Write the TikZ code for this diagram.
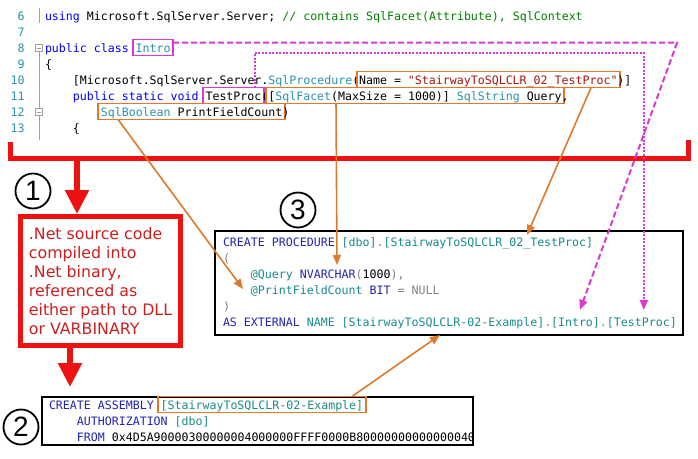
\documentclass[tikz,border=0pt]{standalone}
\usepackage{fontspec}
\usetikzlibrary{arrows.meta}
\newfontfamily\codefont{DejaVu Sans Mono}
\newfontfamily\boxfont{DejaVu Sans}
\newfontfamily\numfont{Liberation Sans}
\definecolor{kwblue}{HTML}{0000FF}
\definecolor{tyteal}{HTML}{2B91AF}
\definecolor{cmtgreen}{HTML}{008000}
\definecolor{strred}{HTML}{A31515}
\definecolor{sqlblue}{HTML}{2323B0}
\definecolor{sqlteal}{HTML}{1A8A8A}
\definecolor{sqlgray}{HTML}{808080}
\definecolor{orng}{HTML}{E07A2A}
\definecolor{mgnt}{HTML}{D93AD0}
\definecolor{bigred}{HTML}{EE1111}
\definecolor{txtred}{HTML}{CC2020}
\definecolor{gutgray}{HTML}{A0A0A0}
\tikzset{
  code/.style={font=\codefont\fontsize{11.6}{16}\selectfont, inner sep=0pt, outer sep=0pt,
    anchor=base west, text height=9.3pt, text depth=2.5pt},
  lnum/.style={code, anchor=base east, text=tyteal},
  obox/.style={code, draw=orng, line width=1.8pt, inner xsep=2.5pt, inner ysep=2.5pt,
    text height=10.2pt, text depth=0.8pt, xshift=-2.5pt},
  mbox/.style={obox, draw=mgnt},
  frame/.style={draw=black, line width=1.2pt, inner sep=0pt, outer sep=0pt, anchor=north west},
  netbox/.style={draw=bigred, line width=5pt, minimum width=160pt, minimum height=129pt,
    align=left, text=txtred, inner sep=0pt, font=\boxfont\fontsize{15.8}{19}\selectfont},
  circnum/.style={circle, draw=black, line width=1.8pt, minimum size=35pt, inner sep=0pt,
    font=\numfont\fontsize{28}{28}\selectfont},
  oarrow/.style={draw=orng, line width=1.6pt, -{Triangle[length=10pt,width=8pt]}},
  mdash/.style={draw=mgnt, line width=2pt, dash pattern=on 6pt off 3pt, -{Triangle[length=10pt,width=8pt]}},
  mdot/.style={draw=mgnt, line width=2pt, dash pattern=on 2pt off 1.5pt, -{Triangle[length=10pt,width=8pt]}},
  redarrow/.style={draw=bigred, line width=5.5pt, -{Triangle[length=24pt,width=23pt]}},
  gut/.style={draw=gutgray, line width=0.8pt}
}
\begin{document}
\begin{tikzpicture}[x=1pt,y=-1pt]
\fill[white] (0,0) rectangle (698,458);
\useasboundingbox (0,0) rectangle (698,458);
% gutter
\draw[gut] (39.5,8) -- (39.5,23);
\draw[gut] (35.5,44.5) rectangle (42.5,51.5);
\draw[gut] (37,48) -- (41,48);
\draw[gut] (39.5,51.5) -- (39.5,108.5);
\draw[gut] (35.5,108.5) rectangle (42.5,115.5);
\draw[gut] (37,112) -- (41,112);
\draw[gut] (39.5,115.5) -- (39.5,140);
% line numbers
\node[lnum] (n6) at (24.5,20.2) {6};
\node[lnum] (n7) at (24.5,36.2) {7};
\node[lnum] (n8) at (24.5,52.2) {8};
\node[lnum] (n9) at (24.5,68.2) {9};
\node[lnum] (n10) at (24.5,84.2) {10};
\node[lnum] (n11) at (24.5,100.2) {11};
\node[lnum] (n12) at (24.5,116.2) {12};
\node[lnum] (n13) at (24.5,132.2) {13};
% code lines
\node[code] (l6) at (45,20.2) {\textcolor{kwblue}{using} Microsoft.SqlServer.Server; \textcolor{cmtgreen}{// contains SqlFacet(Attribute), SqlContext}};
\node[code] (l8) at (45,52.2) {\textcolor{kwblue}{public class}};
\node[mbox] (intro) at (135.74,52.2) {\textcolor{tyteal}{Intro}};
\node[code] (l9) at (45,68.2) {\{};
\node[code] (l10a) at (72.92,84.2) {[Microsoft.SqlServer.Server.\textcolor{tyteal}{SqlProcedure}(};
\node[obox] (name) at (359.1,84.2) {Name = \textcolor{strred}{"StairwayToSQLCLR\_02\_TestProc"}};
\node[code] (l10c) at (617.36,84.2) {)]};
\node[code] (l11a) at (72.92,100.2) {\textcolor{kwblue}{public static void}};
\node[mbox] (testproc) at (205.54,100.2) {TestProc};
\node[code] (l11b) at (261.38,100.2) {(};
\node[obox] (facet) at (268.36,100.2) {[\textcolor{tyteal}{SqlFacet}(MaxSize = 1000)] \textcolor{tyteal}{SqlString} Query};
\node[code] (l11c) at (561.52,100.2) {,};
\node[obox] (bool) at (100.84,116.2) {\textcolor{tyteal}{SqlBoolean} PrintFieldCount};
\node[code] (l12b) at (282.32,116.2) {)};
\node[code] (l13) at (72.92,132.2) {\{};
% red bracket
\draw[bigred, line width=5pt] (10.5,142) -- (10.5,158) -- (688,158) -- (688,140);
\coordinate (brk) at (77,158);
% circled numbers
\node[circnum] (c1) at (33,191) {1};
\node[circnum] (c3) at (298,210) {3};
\node[circnum] (c2) at (21,427) {2};
% red box
\node[netbox] (netbox) at (100.5,281) {.Net source code\\compiled into\\.Net binary,\\referenced as\\either path to DLL\\or VARBINARY};
\coordinate (tip2) at (70,387);
\draw[redarrow] (brk) -- ([xshift=-23.5pt]netbox.north);
\draw[redarrow] ([xshift=-30.5pt]netbox.south) -- (tip2);
% procedure box
\node[frame, minimum width=468pt, minimum height=104pt] (procbox) at (215,231) {};
\node[code] (p1) at (223,246.2) {\textcolor{sqlblue}{CREATE PROCEDURE} \textcolor{sqlteal}{[dbo]}\textcolor{sqlgray}{.}\textcolor{sqlteal}{[StairwayToSQLCLR\_02\_TestProc]}};
\node[code, text=sqlgray] (p2) at (223,262.2) {(};
\node[code] (pq) at (250.92,278.2) {\textcolor{sqlteal}{@Query} \textcolor{sqlblue}{NVARCHAR}\textcolor{sqlgray}{(}1000\textcolor{sqlgray}{),}};
\node[code] (pfc) at (250.92,294.2) {\textcolor{sqlteal}{@PrintFieldCount} \textcolor{sqlblue}{BIT} \textcolor{sqlgray}{= NULL}};
\node[code, text=sqlgray] (p5) at (223,310.2) {)};
\node[code] (pext) at (223,326.2) {\textcolor{sqlblue}{AS EXTERNAL} \textcolor{sqlteal}{NAME [StairwayToSQLCLR-02-Example]}\textcolor{sqlgray}{.}};
\node[code, text=sqlteal] (iref) at (551.06,326.2) {[Intro]};
\node[code, text=sqlgray] (pdot) at (599.92,326.2) {.};
\node[code, text=sqlteal] (pref) at (606.9,326.2) {[TestProc]};
% assembly box
\node[frame, minimum width=431pt, minimum height=48pt] (asmbox) at (42,397) {};
\node[code] (a1) at (49,409.2) {\textcolor{sqlblue}{CREATE ASSEMBLY}};
\node[obox] (asmname) at (160.68,409.2) {\textcolor{sqlteal}{[StairwayToSQLCLR-02-Example]}};
\node[code] (a2) at (76.92,425.2) {\textcolor{sqlblue}{AUTHORIZATION} \textcolor{sqlteal}{[dbo]}};
\begin{scope}
\clip (42,397) rectangle (473,445);
\node[code] (a3) at (76.92,441.2) {\textcolor{sqlblue}{FROM} 0x4D5A90000300000004000000FFFF0000B8000000000000004000000000};
\end{scope}
% orange arrows
\coordinate (tipname) at (527,235);
\coordinate (tipfacet) at (337,265);
\coordinate (tipbool) at (243,289);
\draw[oarrow] ([xshift=102.8pt]name.south) -- (tipname);
\draw[oarrow] ([xshift=-79pt]facet.south) -- (tipfacet);
\draw[oarrow] ([xshift=-73.6pt]bool.south) -- (tipbool);
\draw[oarrow] ([xshift=90pt]asmname.north) -- ([xshift=-9pt]procbox.south);
% magenta arrows
\draw[mdash] ([yshift=-3pt]intro.north east) -- ++(504,0) -- ([xshift=4.5pt,yshift=7pt]iref.north);
\draw[mdot] ([xshift=21.5pt]testproc.north) -- ++(0,-35) -| ([xshift=2pt,yshift=7pt]pref.north);
\end{tikzpicture}
\end{document}
